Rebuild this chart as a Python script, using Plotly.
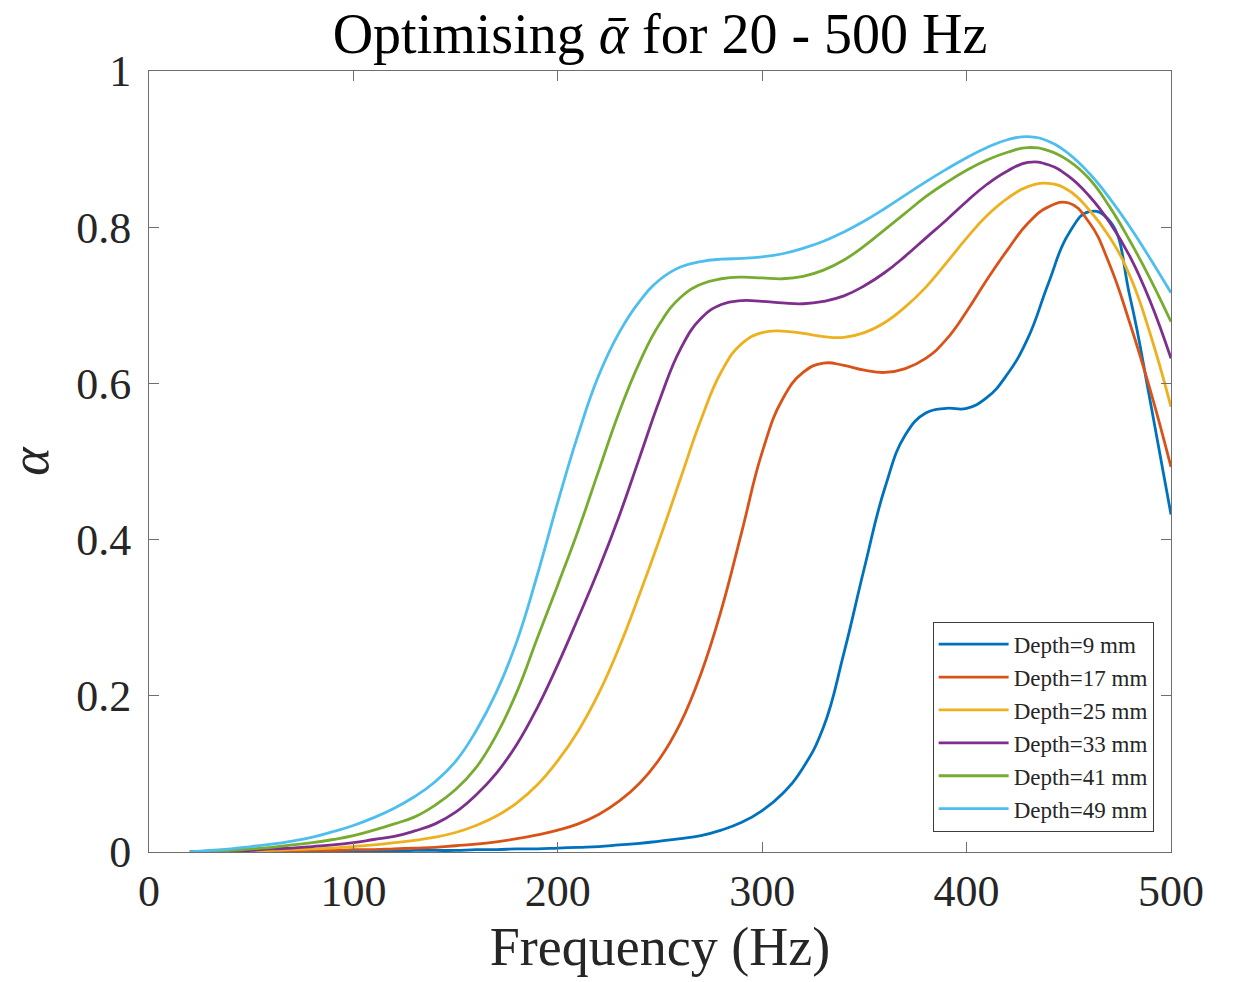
import plotly.graph_objects as go

freq = [20, 30, 40, 50, 60, 70, 80, 90, 100, 110, 120, 130, 140, 150, 160, 170, 180, 190,
        200, 210, 220, 230, 240, 250, 260, 270, 280, 290, 300, 310, 320, 330, 340, 350,
        360, 370, 380, 390, 400, 410, 420, 430, 440, 450, 460, 470, 480, 490, 500]

depth_9 = [0.000, 0.000, 0.000, 0.000, 0.000, 0.001, 0.001, 0.001, 0.001, 0.001, 0.001, 0.002,
           0.002, 0.002, 0.003, 0.003, 0.004, 0.004, 0.005, 0.006, 0.007, 0.009, 0.011, 0.014,
           0.017, 0.021, 0.028, 0.038, 0.053, 0.075, 0.108, 0.160, 0.255, 0.364, 0.466, 0.534,
           0.562, 0.568, 0.568, 0.582, 0.612, 0.658, 0.728, 0.792, 0.820, 0.808, 0.710, 0.575,
           0.432]
depth_17 = [0.000, 0.000, 0.000, 0.001, 0.001, 0.001, 0.002, 0.002, 0.003, 0.003, 0.004, 0.005,
            0.006, 0.008, 0.010, 0.013, 0.017, 0.022, 0.028, 0.036, 0.048, 0.065, 0.088, 0.120,
            0.165, 0.228, 0.310, 0.410, 0.512, 0.580, 0.614, 0.626, 0.623, 0.617, 0.614, 0.619,
            0.632, 0.656, 0.692, 0.733, 0.771, 0.805, 0.826, 0.831, 0.806, 0.752, 0.676, 0.590,
            0.493]
depth_25 = [0.000, 0.000, 0.001, 0.001, 0.002, 0.003, 0.004, 0.005, 0.007, 0.009, 0.012, 0.015,
            0.019, 0.025, 0.034, 0.046, 0.063, 0.086, 0.117, 0.155, 0.203, 0.262, 0.330, 0.402,
            0.478, 0.553, 0.615, 0.651, 0.665, 0.667, 0.664, 0.660, 0.659, 0.665, 0.678, 0.698,
            0.723, 0.754, 0.786, 0.815, 0.837, 0.852, 0.856, 0.847, 0.822, 0.787, 0.737, 0.662,
            0.570]
depth_33 = [0.000, 0.001, 0.001, 0.002, 0.004, 0.005, 0.007, 0.009, 0.012, 0.016, 0.020, 0.027,
            0.036, 0.051, 0.073, 0.101, 0.138, 0.185, 0.240, 0.300, 0.362, 0.430, 0.505, 0.580,
            0.644, 0.683, 0.701, 0.706, 0.705, 0.703, 0.702, 0.705, 0.712, 0.725, 0.742, 0.763,
            0.786, 0.809, 0.833, 0.855, 0.872, 0.883, 0.880, 0.865, 0.840, 0.806, 0.762, 0.704,
            0.632]
depth_41 = [0.000, 0.001, 0.002, 0.004, 0.006, 0.009, 0.012, 0.016, 0.021, 0.028, 0.036, 0.045,
            0.060, 0.080, 0.108, 0.150, 0.205, 0.274, 0.342, 0.412, 0.488, 0.563, 0.627, 0.677,
            0.710, 0.727, 0.734, 0.736, 0.735, 0.734, 0.737, 0.745, 0.758, 0.776, 0.797, 0.818,
            0.839, 0.857, 0.873, 0.886, 0.896, 0.902, 0.898, 0.885, 0.862, 0.826, 0.782, 0.733,
            0.679]
depth_49 = [0.000, 0.002, 0.004, 0.007, 0.010, 0.014, 0.019, 0.026, 0.034, 0.044, 0.056, 0.071,
            0.090, 0.116, 0.155, 0.205, 0.270, 0.355, 0.448, 0.535, 0.610, 0.665, 0.705, 0.733,
            0.749, 0.756, 0.759, 0.760, 0.762, 0.766, 0.773, 0.782, 0.794, 0.808, 0.824, 0.841,
            0.858, 0.874, 0.889, 0.902, 0.912, 0.916, 0.910, 0.894, 0.869, 0.837, 0.800, 0.759,
            0.716]

series_names = ["Depth=9 mm", "Depth=17 mm", "Depth=25 mm", "Depth=33 mm", "Depth=41 mm", "Depth=49 mm"]
series_values = [depth_9, depth_17, depth_25, depth_33, depth_41, depth_49]
colors = ["#0072BD", "#D95319", "#EDB120", "#7E2F8E", "#77AC30", "#4DBEEE"]

x_ticks = [0, 100, 200, 300, 400, 500]
y_ticks = [0, 0.2, 0.4, 0.6, 0.8, 1]
y_tick_labels = ["0", "0.2", "0.4", "0.6", "0.8", "1"]

FONT = "Liberation Serif, DejaVu Serif, serif"
AX = "rgb(110,110,110)"
TXT = "#262626"

fig = go.Figure()
for name, vals, col in zip(series_names, series_values, colors):
    fig.add_trace(go.Scatter(x=freq, y=vals, mode="lines", name=name,
                             line=dict(color=col, width=2.8, shape="spline", smoothing=1.3)))

axis_common = dict(showgrid=False, zeroline=False, showline=True, linecolor=AX, linewidth=1,
                   mirror="ticks", ticks="inside", ticklen=10, tickwidth=1, tickcolor=AX,
                   tickfont=dict(family=FONT, size=44, color=TXT))

fig.update_xaxes(range=[0, 500], tickvals=x_ticks, ticktext=[str(v) for v in x_ticks],
                 title=dict(text="Frequency (Hz)", font=dict(family=FONT, size=54, color=TXT), standoff=12),
                 **axis_common)
fig.update_yaxes(range=[0, 1], tickvals=y_ticks, ticktext=y_tick_labels, ticklabelstandoff=8,
                 title=dict(text="<i>α</i>", font=dict(family=FONT, size=54, color=TXT), standoff=22),
                 **axis_common)

fig.update_layout(
    width=1239, height=982,
    margin=dict(l=149, r=68, t=71, b=130),
    paper_bgcolor="white", plot_bgcolor="white",
    title=dict(text="Optimising <i>ᾱ</i> for 20 - 500 Hz", x=0.5, xref="paper",
               y=0.966, yref="container", yanchor="middle",
               font=dict(family=FONT, size=56, color="black")),
    legend=dict(x=0.983, y=0.026, xanchor="right", yanchor="bottom",
                bgcolor="white", bordercolor="rgb(60,60,60)", borderwidth=1,
                font=dict(family=FONT, size=23, color=TXT), itemwidth=70,
                tracegroupgap=0),
    showlegend=True,
)

fig.write_html("out.html")
